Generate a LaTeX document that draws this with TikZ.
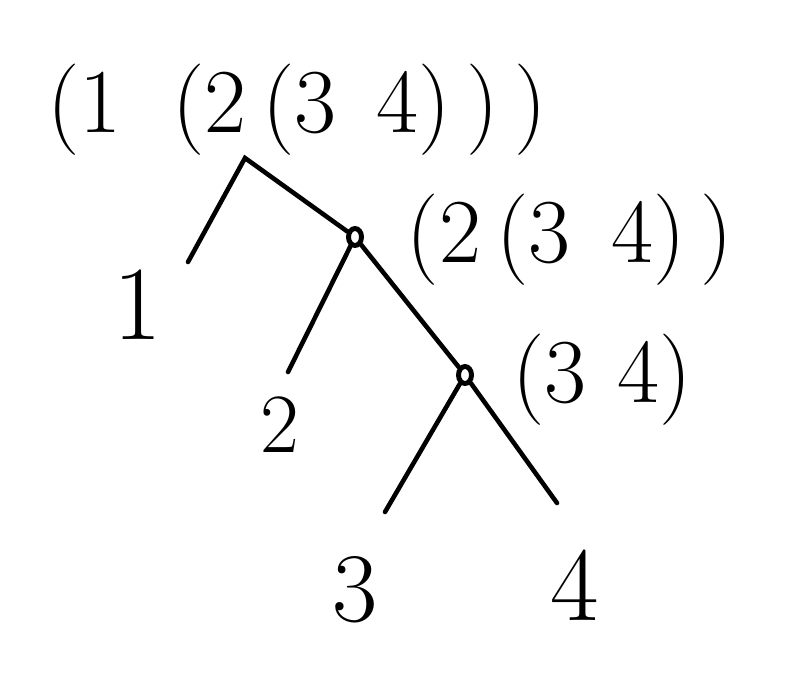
\documentclass[tikz,border=0pt]{standalone}
\usepackage{tikz}
\usetikzlibrary{shapes.geometric}

\begin{document}
\begin{tikzpicture}[line width=1.3pt,line cap=round,font=\fontsize{26}{30}\selectfont]
	\tikzset{Junction/.style={draw,ellipse,minimum width=0.13cm,minimum height=0.17cm,inner sep=0pt,line width=1.4pt}}
	\tikzset{Leaf/.style={inner sep=0pt}}
	\useasboundingbox (0,0) rectangle (7.97,6.72);
	% tree points
	\coordinate (root) at (2.45,5.14);
	\node[Junction] (n234) at (3.55,4.35) {};
	\node[Junction] (n34) at (4.65,2.97) {};
	\coordinate (e1) at (1.88,4.10);
	\coordinate (e2) at (2.88,3.00);
	\coordinate (e3) at (3.85,1.60);
	\coordinate (e4) at (5.57,1.69);
	% labels
	\node[Leaf] (top) at (2.97,5.62) {(1\;\;(2\,(3\;\,4)\,)\,)};
	\node[Leaf] (l234) at (5.70,4.32) {(2\,(3\;\,4)\,)};
	\node[Leaf] (l34) at (6.02,2.92) {(3\,\,4)};
	\node[Leaf,font=\fontsize{30}{34}\selectfont] (l1) at (1.38,3.67) {1};
	\node[Leaf,font=\fontsize{24}{28}\selectfont] (l2) at (2.80,2.47) {2};
	\node[Leaf,font=\fontsize{28}{32}\selectfont] (l3) at (3.55,0.82) {3};
	\node[Leaf,font=\fontsize{30}{34}\selectfont] (l4) at (5.75,0.87) {4};
	% branches
	\draw (e1) -- (root) -- (n234);
	\draw (n234) -- (e2);
	\draw (n234) -- (n34);
	\draw (n34) -- (e3);
	\draw (n34) -- (e4);
\end{tikzpicture}
\end{document}
